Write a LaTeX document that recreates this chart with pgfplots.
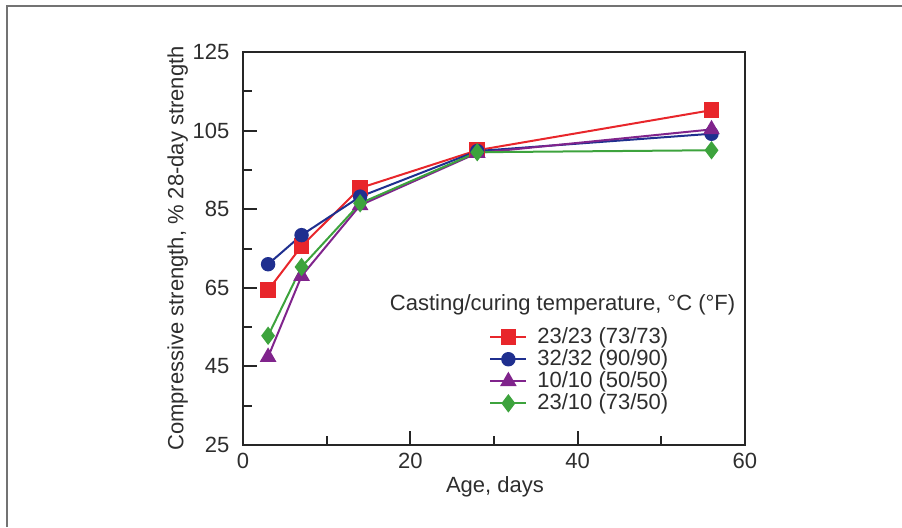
\documentclass[border=0pt]{standalone}
\usepackage{fontspec}
\setmainfont{Liberation Sans}
\usepackage{pgfplots}
\pgfplotsset{compat=1.18}
\definecolor{cred}{HTML}{E8262B}
\definecolor{cblue}{HTML}{1F2F8F}
\definecolor{cpurple}{HTML}{80248C}
\definecolor{cgreen}{HTML}{3DA33D}
\definecolor{ctext}{HTML}{2E2E2E}
\begin{document}
\fontsize{11}{13}\selectfont
\begin{tikzpicture}[x=1pt,y=1pt]
\useasboundingbox (0,0) rectangle (451,263.5);
\draw[black!55, line width=1pt] (3.5,0) -- (3.5,260.5) -- (451,260.5);
\begin{axis}[
  at={(121.5pt,41pt)}, anchor=south west,
  scale only axis, width=251pt, height=196.5pt,
  xmin=0, xmax=60, ymin=25, ymax=125,
  xtick={0,20,40,60}, ytick={25,45,65,85,105,125},
  minor tick num=1,
  tick align=inside,
  major tick length=7pt, minor tick length=4.5pt,
  xtick pos=bottom, ytick pos=left,
  axis line style={black!85, line width=1pt},
  tick style={black!85, line width=1pt},
  /pgf/number format/assume math mode=true,
  tick label style={font=\fontsize{11}{13}\selectfont, text=ctext},
  yticklabel style={xshift=-3pt},
  label style={font=\fontsize{11}{13}\selectfont, text=ctext},
  xlabel={Age, days},
  ylabel={Compressive strength, \% 28-day strength},
  xlabel style={at={(axis description cs:0.502,-0.107)}, anchor=center},
  ylabel style={at={(axis description cs:-0.13,0.5)}, anchor=center},
  every axis plot/.append style={line width=1pt},
  legend image code/.code={\draw[mark repeat=2, mark phase=2]
    plot coordinates {(0pt,0pt) (9pt,0pt) (18pt,0pt)};},
  legend style={at={(axis description cs:0.49,0.31)}, anchor=north west,
    draw=none, fill=none, inner sep=0pt, row sep=-2.6pt,
    font=\fontsize{11}{11.5}\selectfont, text=ctext,
    /tikz/every odd column/.append style={column sep=3pt}},
  legend cell align=left,
]
\addplot[cred, mark=square*, mark size=3.4pt] coordinates {(3,64.4) (7,75.6) (14,90.4) (28,100) (56,110.2)};
\addlegendentry{23/23 (73/73)}
\addplot[cblue, mark=*, mark size=3.1pt] coordinates {(3,71) (7,78.4) (14,88.2) (28,99.8) (56,104.2)};
\addlegendentry{32/32 (90/90)}
\addplot[cpurple, mark=triangle*, mark size=3.8pt] coordinates {(3,47.4) (7,68) (14,86) (28,99.3) (56,105.3)};
\addlegendentry{10/10 (50/50)}
\addplot[cgreen, mark=diamond*, mark size=3.8pt] coordinates {(3,52.8) (7,70.3) (14,86.5) (28,99.5) (56,100)};
\addlegendentry{23/10 (73/50)}
\node[text=ctext, font=\fontsize{11}{13}\selectfont] at (axis cs:38.2,60.6) {Casting/curing temperature, °C (°F)};
\end{axis}
\end{tikzpicture}
\end{document}
